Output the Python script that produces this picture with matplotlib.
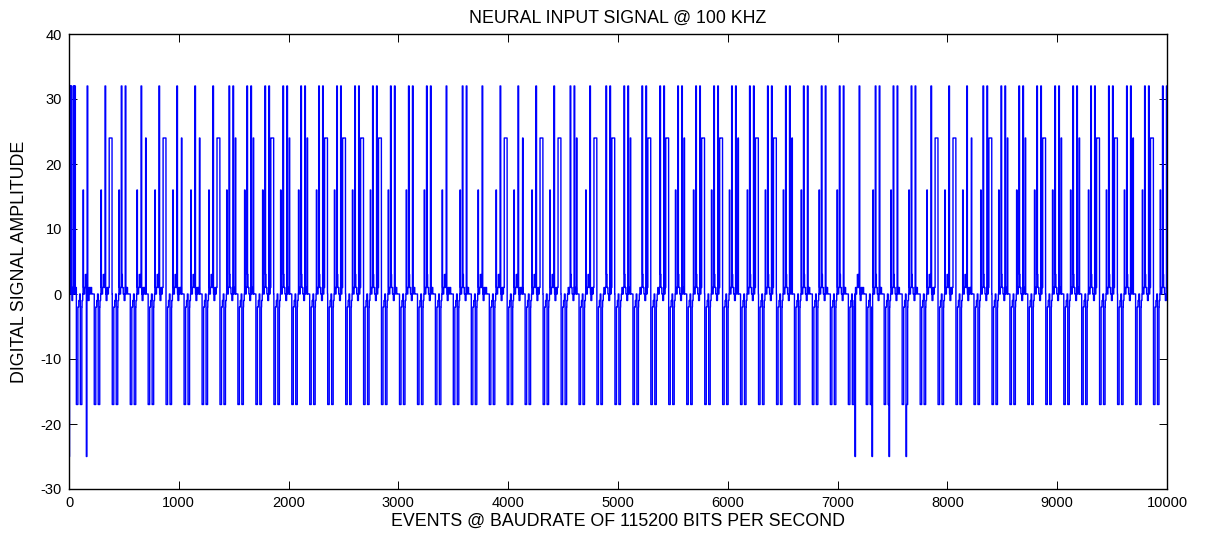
import numpy as np
import matplotlib
matplotlib.use('Agg')
import matplotlib.pyplot as plt

# One "frame" of the stream repeats about every 163.5 events
n_events = 10000
frame_start = 67
frame_period = 163.5
n_frames = 61

# 24-level feature per frame: 0 none, 1 narrow spike, 2 wide pulse
pulse24 = [0, 2, 0, 1, 2, 1, 1, 2, 1, 1, 2, 1, 1, 2, 2, 2, 2,
           0, 0, 0, 0, 0, 0,
           2, 1, 2, 2, 1, 2, 2, 1, 2, 2, 1, 2, 2, 1, 2, 2, 1,
           0, 0, 0, 0, 0, 0, 0,
           2, 2, 1, 2, 1, 1, 2, 1, 1, 2, 2, 1, 2,
           0]

# 32-level spikes per frame: 0 single, 1 pair
double32 = [0, 0, 1, 0, 0, 0, 0, 0,
            1, 1, 1, 1, 1, 1, 1, 1, 1, 1, 1, 1,
            0, 1, 0, 0, 0, 0, 0, 1, 0,
            1, 1, 1, 1, 1, 1, 1, 1, 1, 1, 1, 1, 1, 1,
            0, 1, 1, 1, 0, 0, 0,
            1, 1, 1, 1, 1, 1, 1, 1, 1, 1, 1]

# frames without the 16-level spike
no16 = [27, 29, 30, 31, 32]

# events where the signal dips to -25
neg25_at = [0, 158, 7158, 7313, 7468, 7623]

# low-level chatter inside one frame
base_levels = [-1, -2, -1, 0, -1, -2, -1, 0, 1, 0, 1, 3, 1, 0, -1, 1, 0, 1, 0]
base_lens = [12, 10, 8, 6, 8, 8, 6, 6, 6, 6, 6, 10, 8, 8, 8, 6, 7, 10, 30]

# spikes inside one frame: (offset, length) in events
neg17 = [(0, 14), (36, 14)]
pos16 = (61, 4)
single32 = [(98, 6)]
pair32 = [(82, 6), (118, 6)]
narrow24 = (140, 4)
wide24 = (136, 26)

# start of the record, before the first frame
pre_levels = [0, 32, 1, 32, 0, 32, 1, -1, 1, 32, 0, 32, 1, 32, 0, 1]
pre_lens = [6, 3, 4, 3, 4, 3, 4, 6, 6, 3, 5, 3, 5, 3, 3, 7]


def frame_values(k, length):
    v = np.repeat(base_levels, base_lens).astype(float)[:length]
    for o, n in neg17:
        v[o:o + n] = -17
    if k not in no16:
        v[pos16[0]:pos16[0] + pos16[1]] = 16
    for o, n in (pair32 if double32[k] else single32):
        v[o:o + n] = 32
    if pulse24[k] == 2:
        v[wide24[0]:wide24[0] + wide24[1]] = 24
    elif pulse24[k] == 1:
        v[narrow24[0]:narrow24[0] + narrow24[1]] = 24
    return v


y = np.zeros(n_events + 1)
starts = [int(round(frame_start + frame_period * k)) for k in range(n_frames)]
starts.append(n_events + 1)
for k in range(n_frames):
    a, b = starts[k], starts[k + 1]
    fv = frame_values(k, b - a)
    y[a:a + len(fv)] = fv

pre = np.repeat(pre_levels, pre_lens).astype(float)[:frame_start]
y[:len(pre)] = pre
for p in neg25_at:
    y[p:p + 5] = -25
x = np.arange(n_events + 1)

plt.rcParams['font.family'] = ['Liberation Sans', 'DejaVu Sans']
plt.rcParams['axes.unicode_minus'] = False

fig = plt.figure(figsize=(12.07, 5.35), dpi=100)
ax = fig.add_axes([69 / 1207, 1 - 489 / 535, 1098 / 1207, 455 / 535])

ax.step(x, y, where='post', color='#0000ff', linewidth=1.0)

ax.set_xlim(0, 10000)
ax.set_ylim(-30, 40)
ax.set_xticks(np.arange(0, 10001, 1000))
ax.set_yticks(np.arange(-30, 41, 10))
ax.tick_params(direction='in', top=True, right=True, length=6, width=0.7,
               labelsize=10.5, pad=5)
for s in ax.spines.values():
    s.set_linewidth(1.0)

ax.set_title('NEURAL INPUT SIGNAL @ 100 KHZ', fontsize=12.8, pad=8)
ax.set_xlabel('EVENTS @ BAUDRATE OF 115200 BITS PER SECOND', fontsize=12.8, labelpad=2)
ax.set_ylabel('DIGITAL SIGNAL AMPLITUDE', fontsize=12.8, labelpad=9)

fig.savefig('out.png', dpi=100)
